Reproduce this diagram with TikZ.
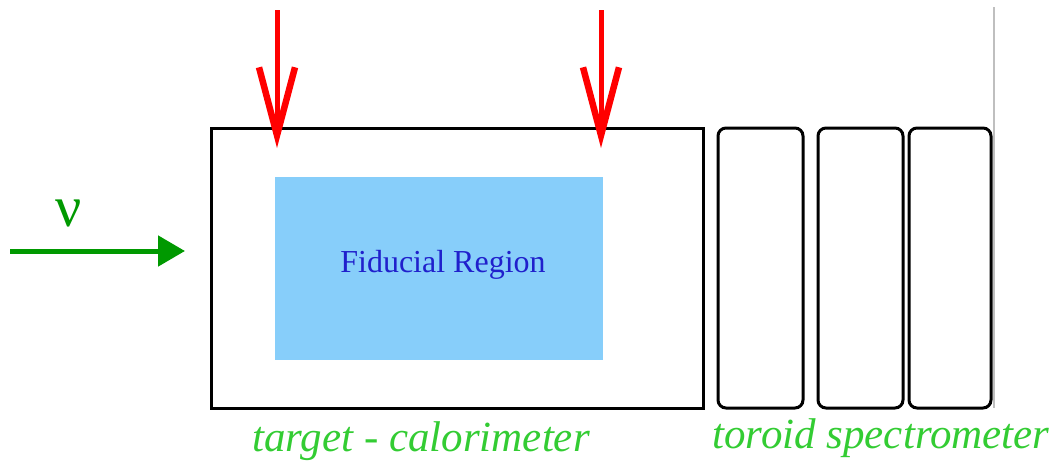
\documentclass[tikz,border=0pt]{standalone}
\usepackage{fontspec}
\setmainfont{Liberation Serif}
\usetikzlibrary{arrows.meta}
\definecolor{nugreen}{HTML}{009900}
\definecolor{labelgreen}{HTML}{33CC33}
\definecolor{fidblue}{HTML}{87CEFA}
\definecolor{fidtext}{HTML}{2020CC}
\tikzset{
  frame/.style={draw=black, line width=3pt, fill=white, inner sep=0pt, outer sep=0pt, anchor=north west},
  toroid/.style={frame, rounded corners=8pt, minimum width=85pt, minimum height=280pt},
  caption/.style={text=labelgreen, font=\fontsize{43}{48}\selectfont\itshape, inner sep=0pt},
  probe/.style={draw=red, line width=5pt, -{Straight Barb[length=68pt, width=36pt, line width=6.5pt]}},
  beam/.style={draw=nugreen, line width=5pt, -{Triangle[length=27pt, width=30pt]}}
}
\begin{document}
\begin{tikzpicture}[x=1pt, y=-1pt]
  \useasboundingbox (0,0) rectangle (1055,466);

  % page edge line
  \draw[black!25, line width=2pt] (994,7) -- (994,408);

  % target calorimeter and fiducial volume
  \node[frame, minimum width=492pt, minimum height=280pt] (target) at (211,128) {};
  \node[fill=fidblue, inner sep=0pt, anchor=north west,
        minimum width=328pt, minimum height=183pt] (fid) at (275,177) {};
  \node[text=fidtext, font=\fontsize{32}{36}\selectfont, inner sep=0pt] (fidlabel) at (443,265) {Fiducial Region};

  % toroid spectrometer modules
  \node[toroid] (t1) at (718,128) {};
  \node[toroid] (t2) at (818,128) {};
  \node[toroid, minimum width=82pt] (t3) at (909,128) {};

  % captions
  \node[caption] (tclabel) at (421,441) {target - calorimeter};
  \node[caption] (tslabel) at (881,438) {toroid spectrometer};

  % incoming neutrino beam
  \coordinate (nustart) at (10,251);
  \coordinate (nuend) at (185,251);
  \draw[beam] (nustart) -- (nuend);
  \node[text=nugreen, font=\fontsize{58}{62}\selectfont, inner sep=0pt] (nu) at (69,213) {ν};

  % red marker arrows at the fiducial edges
  \coordinate (p1s) at (277,10);
  \coordinate (p1e) at (277,148);
  \coordinate (p2s) at (601,10);
  \coordinate (p2e) at (601,148);
  \draw[probe] (p1s) -- (p1e);
  \draw[probe] (p2s) -- (p2e);
\end{tikzpicture}
\end{document}
